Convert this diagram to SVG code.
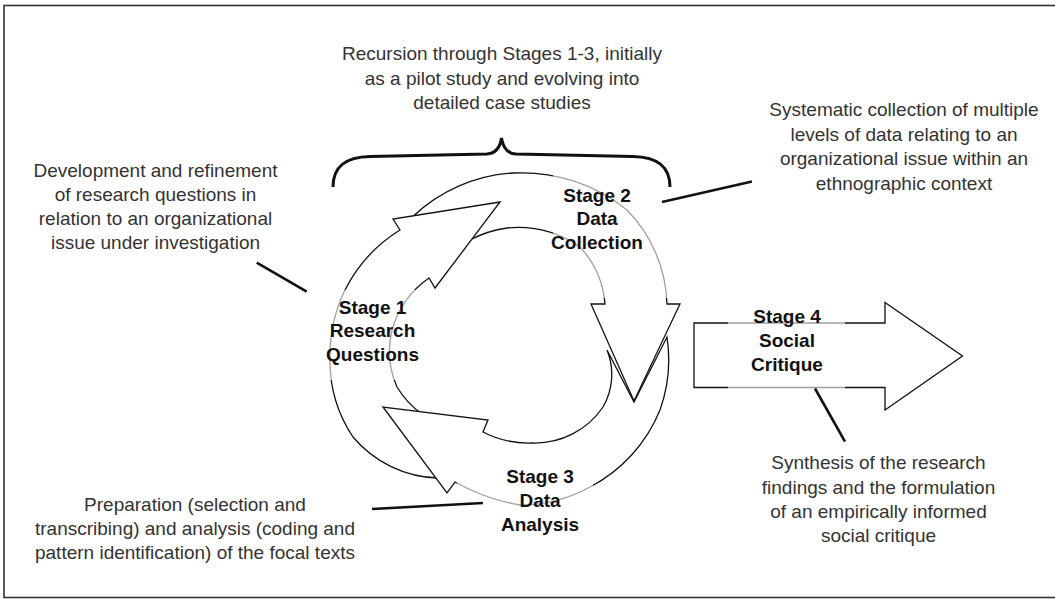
<svg xmlns="http://www.w3.org/2000/svg" width="1055" height="599" viewBox="0 0 1055 599">
<style>
.ring{fill:#fff;stroke:#111;stroke-width:1.3;stroke-linejoin:miter}
.veil{fill:#fff;fill-opacity:0.6;stroke:none}
.lbl{font-family:"Liberation Sans",Arial,sans-serif;font-weight:bold;font-size:19px;fill:#111;text-anchor:middle}
.desc{font-family:"Liberation Sans",Arial,sans-serif;font-size:19px;fill:#333;text-anchor:middle}
.lead{stroke:#111;stroke-width:2.6;fill:none;stroke-linecap:butt}
</style>
<rect width="1055" height="599" fill="#fff"/>
<rect x="4" y="5.5" width="1060" height="592" fill="none" stroke="#333" stroke-width="1.6"/>

<g id="stage2">
<path class="ring" d="M 413,216.5 A 160 160 0 0 1 513,173 A 168 168 0 0 1 627,210 A 140 140 0 0 1 667,304 L 680,304 L 634,401 L 591,304 L 605,304 A 95 95 0 0 0 580,247 A 110 110 0 0 0 507,228 A 110 110 0 0 0 470,240 L 499,203 Z"/>
</g>
<g id="stage1">
<path class="ring" d="M 438,478 A 115 115 0 0 1 353,437 A 138 138 0 0 1 330,357 A 150 150 0 0 1 345,290 A 150 150 0 0 1 400,230 L 393,219 L 500,202 L 435,288 L 429,278 A 95 95 0 0 0 392,330 A 90 90 0 0 0 397,387 A 90 90 0 0 0 422,414 L 388,412 Z"/>
</g>
<g id="stage3">
<path class="ring" d="M 667,337 A 150 150 0 0 1 660,410 A 151 151 0 0 1 590,487 A 145 145 0 0 1 520,505 A 200 200 0 0 1 455,482 L 447,493 L 383,407 L 488,420 L 483,432 A 100 100 0 0 0 533,443 A 82 82 0 0 0 603,407 A 65 65 0 0 0 607,350 L 634,402 Z"/>
</g>
<g id="stage4">
<path class="ring" d="M 694,323 L 885,323 L 885,302.5 L 962.5,356 L 885,410 L 885,387.5 L 694,387.5 Z"/>
</g>

<g id="veils">
<rect class="veil" x="322" y="290" width="100" height="90"/>
<rect class="veil" x="553" y="172" width="120" height="126"/>
<rect class="veil" x="457" y="455" width="136" height="80"/>
<rect class="veil" x="728" y="318" width="117" height="74"/>
</g>

<g id="labels">
<text class="lbl" x="372.5" y="314">Stage 1</text>
<text class="lbl" x="372.5" y="337.3">Research</text>
<text class="lbl" x="372.5" y="360.7">Questions</text>
<text class="lbl" x="597" y="201.7">Stage 2</text>
<text class="lbl" x="597" y="225">Data</text>
<text class="lbl" x="597" y="249.3">Collection</text>
<text class="lbl" x="540" y="483">Stage 3</text>
<text class="lbl" x="540" y="507">Data</text>
<text class="lbl" x="540" y="530.5">Analysis</text>
<text class="lbl" x="787" y="322.7">Stage 4</text>
<text class="lbl" x="787" y="347">Social</text>
<text class="lbl" x="787" y="370.8">Critique</text>
</g>

<g id="notes">
<text class="desc" x="502" y="60">Recursion through Stages 1-3, initially</text>
<text class="desc" x="502" y="84.5">as a pilot study and evolving into</text>
<text class="desc" x="502" y="109">detailed case studies</text>
<text class="desc" x="155.5" y="176.7">Development and refinement</text>
<text class="desc" x="155.5" y="200.8">of research questions in</text>
<text class="desc" x="155.5" y="225">relation to an organizational</text>
<text class="desc" x="155.5" y="249">issue under investigation</text>
<text class="desc" x="904" y="116">Systematic collection of multiple</text>
<text class="desc" x="904" y="140.5">levels of data relating to an</text>
<text class="desc" x="904" y="165">organizational issue within an</text>
<text class="desc" x="904" y="189.5">ethnographic context</text>
<text class="desc" x="195" y="510.5">Preparation (selection and</text>
<text class="desc" x="195" y="534.5">transcribing) and analysis (coding and</text>
<text class="desc" x="195" y="558.5">pattern identification) of the focal texts</text>
<text class="desc" x="878.5" y="469.3">Synthesis of the research</text>
<text class="desc" x="878.5" y="493.6">findings and the formulation</text>
<text class="desc" x="878.5" y="518">of an empirically informed</text>
<text class="desc" x="878.5" y="542.3">social critique</text>
</g>

<g id="connectors">
<path d="M 333,187 C 333,166 346,157 370,156.5 L 487,154 C 496,153.5 500,148 501.5,138 C 503,148 507,153.5 516,154 L 633,156.5 C 657,157 670,166 670,187" fill="none" stroke="#111" stroke-width="3"/>
<line class="lead" x1="256.7" y1="262.7" x2="306.7" y2="291.7"/>
<line class="lead" x1="662" y1="202" x2="752" y2="181.5"/>
<line class="lead" x1="372" y1="509" x2="483" y2="503"/>
<line class="lead" x1="815" y1="388.5" x2="845" y2="441.7"/>
</g>
</svg>
